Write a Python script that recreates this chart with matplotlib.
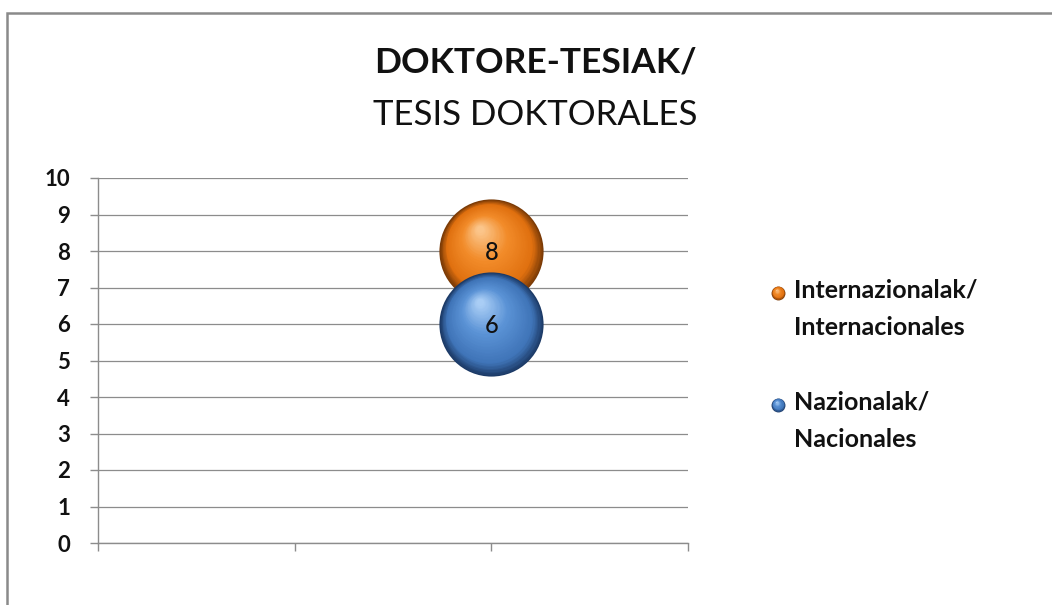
import matplotlib
matplotlib.use("Agg")
import matplotlib.pyplot as plt
import numpy as np
from matplotlib.colors import LinearSegmentedColormap
from matplotlib.transforms import ScaledTranslation
from matplotlib.patches import Rectangle

plt.rcParams['font.family'] = ['Lato', 'DejaVu Sans']

# data
SERIES = ["Internazionalak/\nInternacionales", "Nazionalak/\nNacionales"]
X_VALS = [2, 2]
Y_VALS = [8, 6]
Y_TICKS = list(range(0, 11))
X_TICKS = [0, 1, 2, 3]

# colours: (edge, base, light, highlight)
PAL = [("#7a3a06", "#e0700f", "#f28c2a", "#fbc58a"),
       ("#1c3a66", "#3f74b8", "#5b93d6", "#a9cdf5")]
GRID = "#8c8c8c"
INK = "#111111"

fig = plt.figure(figsize=(10.52, 6.05), dpi=100)
fig.patch.set_facecolor("white")
ax = fig.add_axes([98/1052, 1-543/605, (688-98)/1052, (543-178)/605])

def sphere(ax, x, y, d_pt, cols, z, trans=None, n=45):
    cmap = LinearSegmentedColormap.from_list("s", [(0, cols[0]), (0.18, cols[1]),
                                                   (0.6, cols[2]), (1, cols[3])])
    off = np.array([-0.22, 0.42]) * d_pt / 2  # highlight offset in points
    base = trans if trans is not None else ax.transData
    for i, t in enumerate(np.linspace(0, 1, n)):
        sz = d_pt * (1 - 0.93 * t)
        tr = base + ScaledTranslation(off[0]*t/72, off[1]*t/72, fig.dpi_scale_trans)
        ax.scatter([x], [y], s=sz**2, color=cmap(t), lw=0, transform=tr,
                   zorder=z + i*0.001, clip_on=False)

for k in range(len(SERIES)):
    sphere(ax, X_VALS[k], Y_VALS[k], 75, PAL[k], 3 + k)
    ax.text(X_VALS[k], Y_VALS[k] - 0.05, str(Y_VALS[k]), ha="center", va="center",
            fontsize=17, fontweight="medium", color=INK, zorder=10)

ax.set_xlim(0, 3)
ax.set_ylim(0, 10)
ax.set_xticks(X_TICKS)
ax.set_xticklabels([])
ax.set_yticks(Y_TICKS)
ax.set_yticklabels([str(v) for v in Y_TICKS], fontsize=16, fontweight="bold", color=INK)
ax.grid(axis="y", color=GRID, lw=0.9)
ax.set_axisbelow(True)
for s in ("top", "right"):
    ax.spines[s].set_visible(False)
for s in ("left", "bottom"):
    ax.spines[s].set_color(GRID)
    ax.spines[s].set_linewidth(1.0)
ax.tick_params(axis="both", direction="out", length=6, color=GRID, width=1.0)
ax.tick_params(axis="y", pad=14)

# title
fig.text(535/1052, 1-62/605, "DOKTORE-TESIAK/", ha="center", va="center",
         fontsize=25.5, fontweight="bold", color=INK)
fig.text(535/1052, 1-115/605, "TESIS DOKTORALES", ha="center", va="center",
         fontsize=25, color=INK)

# legend
LEG_Y = [293, 405]
for k, lab in enumerate(SERIES):
    yf = 1 - LEG_Y[k]/605
    sphere(ax, 778/1052, yf, 10, PAL[k], 20, trans=fig.transFigure, n=12)
    fig.text(794/1052, yf, lab, ha="left", va="top", fontsize=18, fontweight="bold",
             color=INK, linespacing=1.72,
             transform=fig.transFigure + ScaledTranslation(0, 14/100, fig.dpi_scale_trans))

# outer border
fig.add_artist(Rectangle((7/1052, -0.2), 1.5, 1.2 - 13/605, transform=fig.transFigure,
                         fill=False, edgecolor="#8a8a8a", lw=1.8))

fig.savefig("out.png", dpi=100, facecolor="white")
